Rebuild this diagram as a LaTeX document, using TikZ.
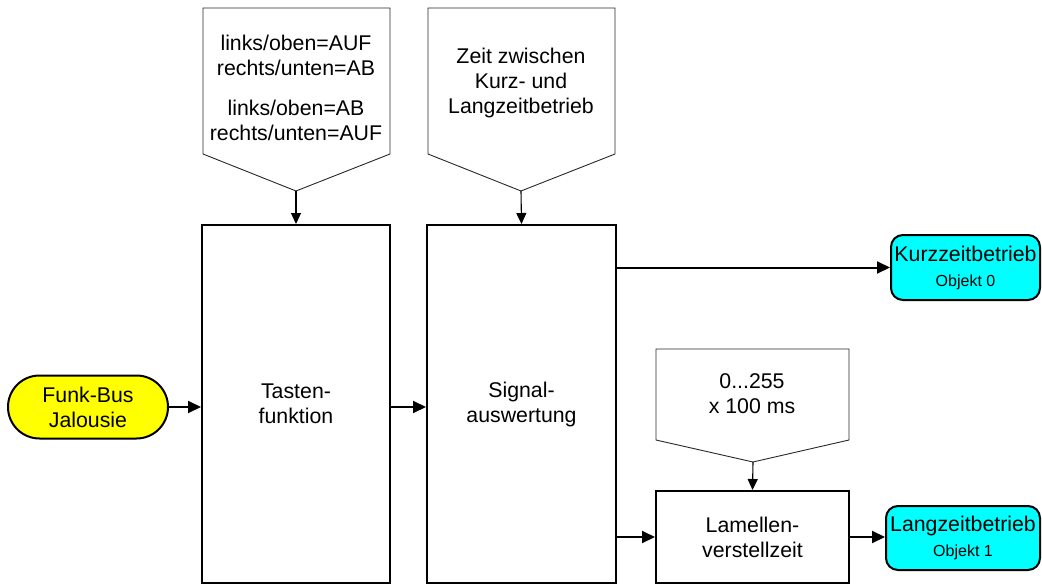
\documentclass[tikz,border=0pt]{standalone}
\usepackage{fontspec}
\setmainfont{Liberation Sans}
\usetikzlibrary{arrows.meta,positioning,shapes.misc}
\definecolor{fbYellow}{RGB}{255,255,  0}
\definecolor{fbCyan}  {RGB}{  0,255,255}
\definecolor{fbGrey}  {RGB}{ 40, 40, 40}

\begin{document}
\begin{tikzpicture}[x=1pt,y=-1pt,
  every node/.style={font=\fontsize{21.3}{25}\selectfont,inner sep=0pt},
  blk/.style={draw,line width=2pt,align=center},
  term/.style={draw,line width=2pt,fill=fbYellow,rounded rectangle,
               minimum width=160pt,minimum height=63pt,align=center},
  obj/.style={draw,line width=2pt,fill=fbCyan,rounded corners=12pt,align=center},
  par/.style={draw=fbGrey,line width=0.9pt,fill=white},
  arr/.style={line width=2pt,-{Triangle[length=13pt,width=12pt]}},
  parr/.style={line width=1.1pt,-{Triangle[length=11pt,width=10pt]}}
]
\useasboundingbox (0,0) rectangle (1042,586);

% parameter pentagons
\draw[par] (203,8) -- (390,8) -- (390,154) -- (296,191) -- (203,154) -- cycle;
\coordinate (tipA) at (296,191);
\draw[par] (428,8) -- (615,8) -- (615,154) -- (521,191) -- (428,154) -- cycle;
\coordinate (tipB) at (521,191);
\draw[par] (656,349) -- (849,349) -- (849,440) -- (753,462) -- (656,440) -- cycle;
\coordinate (tipC) at (753,462);

\node[align=center] (parA) at (296,88)
  {links/oben=AUF\\rechts/unten=AB\\[15pt]links/oben=AB\\rechts/unten=AUF};
\node[align=center] (parB) at (521,83)
  {Zeit zwischen\\Kurz- und\\Langzeitbetrieb};
\node[align=center] (parC) at (752,393.5) {0...255\\x 100 ms};

% blocks
\node[term] (Funk) at (88,407) {Funk-Bus\\Jalousie};
\node[blk,minimum width=188pt,minimum height=358pt] (Tast) at (296,404) {Tasten-\\funktion};
\node[blk,minimum width=189pt,minimum height=358pt] (Sig)  at (521.5,404) {Signal-\\auswertung};
\node[blk,minimum width=193pt,minimum height=92pt]  (Lam)  at (752.5,537) {Lamellen-\\verstellzeit};
\node[obj,minimum width=149pt,minimum height=65pt]  (Kurz) at (965.5,267.5)
  {Kurzzeitbetrieb\\{\fontsize{16}{18}\selectfont Objekt 0}};
\node[obj,minimum width=154pt,minimum height=64pt]  (Lang) at (963,538)
  {Langzeitbetrieb\\{\fontsize{16}{18}\selectfont Objekt 1}};

% connectors
\draw[arr] (Funk.east) -- (Funk.east -| Tast.west);
\draw[arr] (Tast.east |- Funk.east) -- (Sig.west |- Funk.east);
\draw[arr] (Sig.east |- Kurz.west) -- (Kurz.west);
\draw[arr] (Sig.east |- Lam.west) -- (Lam.west);
\draw[arr] (Lam.east) -- (Lam.east -| Lang.west);
\draw[parr] (tipA) -- (Tast.north);
\draw[parr] (tipB) -- (Sig.north);
\draw[parr] (tipC) -- (Lam.north);
\end{tikzpicture}
\end{document}
